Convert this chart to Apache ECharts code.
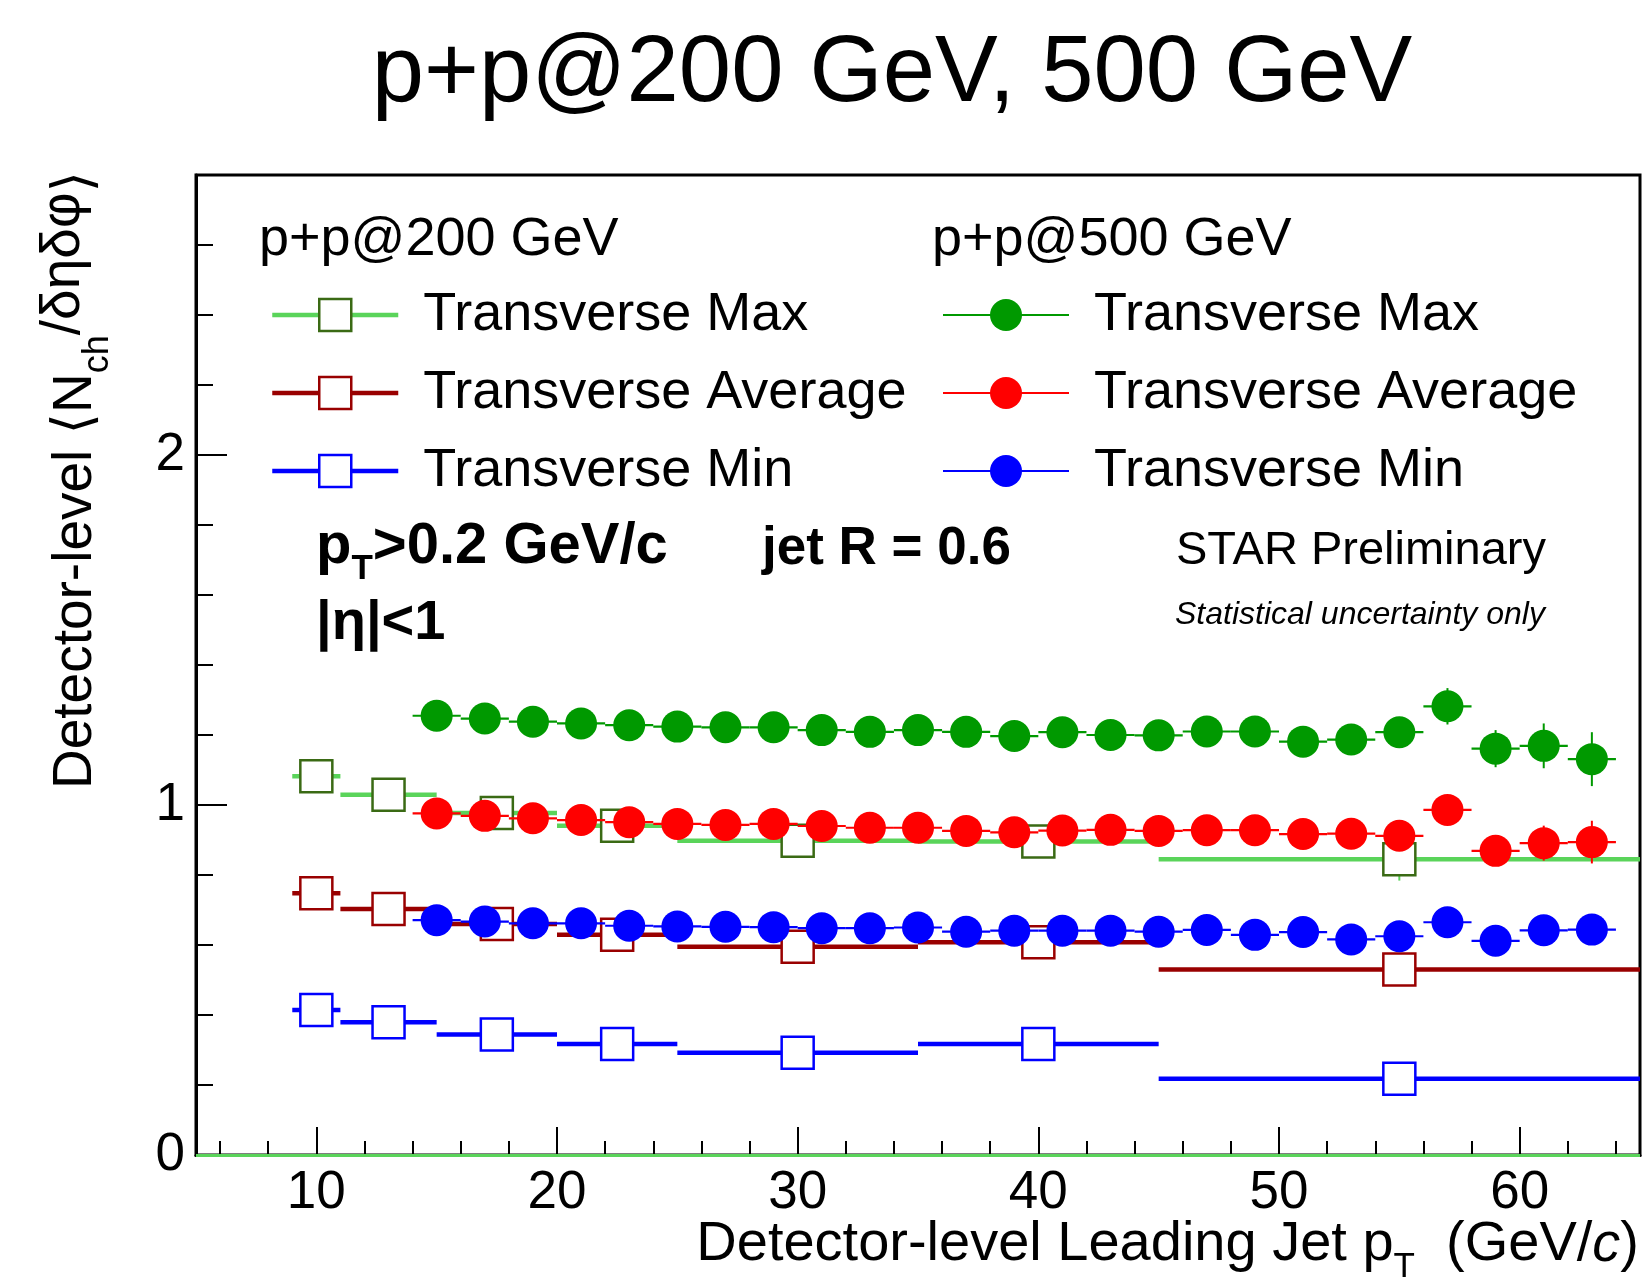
<!DOCTYPE html>
<html>
<head>
<meta charset="utf-8">
<title>p+p@200 GeV, 500 GeV</title>
<script src="https://cdn.jsdelivr.net/npm/echarts@6/dist/echarts.min.js"></script>
<style>
    html, body { margin: 0; padding: 0; background: #fff; }
    #container { width: 1642px; height: 1278px; }
</style>
</head>
<body>
<div id="container"></div>
<script type="text/javascript">
    // p+p@200 GeV : bin centres, bin edges, values, stat. errors
    var pt200  = [10, 13, 17.5, 22.5, 30, 40, 55];
    var lo200  = [9, 11, 15, 20, 25, 35, 45];
    var hi200  = [11, 15, 20, 25, 35, 45, 65];
    var max200 = [1.082, 1.029, 0.977, 0.941, 0.898, 0.896, 0.845];
    var avg200 = [0.748, 0.703, 0.660, 0.629, 0.595, 0.608, 0.530];
    var min200 = [0.414, 0.379, 0.344, 0.317, 0.292, 0.317, 0.218];
    var errMax200 = [0.004, 0.005, 0.006, 0.007, 0.008, 0.012, 0.061];
    var errAvg200 = [0.003, 0.004, 0.004, 0.005, 0.006, 0.009, 0.030];
    var errMin200 = [0.002, 0.003, 0.003, 0.004, 0.004, 0.006, 0.020];

    // p+p@500 GeV : bins of 2 GeV/c
    var pt500 = [15, 17, 19, 21, 23, 25, 27, 29, 31, 33, 35, 37, 39, 41, 43, 45, 47, 49, 51, 53, 55, 57, 59, 61, 63];
    var halfBin500 = 1;
    var max500 = [1.255, 1.247, 1.238, 1.233, 1.228, 1.224, 1.222, 1.222, 1.214, 1.209, 1.214, 1.209, 1.197,
                  1.208, 1.200, 1.199, 1.210, 1.210, 1.181, 1.187, 1.208, 1.282, 1.161, 1.169, 1.131];
    var avg500 = [0.976, 0.969, 0.962, 0.957, 0.951, 0.946, 0.943, 0.946, 0.940, 0.935, 0.935, 0.926, 0.922,
                  0.927, 0.929, 0.926, 0.928, 0.928, 0.917, 0.918, 0.912, 0.986, 0.869, 0.891, 0.894];
    var min500 = [0.671, 0.667, 0.662, 0.662, 0.655, 0.653, 0.652, 0.651, 0.648, 0.648, 0.650, 0.638, 0.641,
                  0.641, 0.641, 0.638, 0.643, 0.629, 0.637, 0.616, 0.625, 0.665, 0.612, 0.642, 0.644];
    var errMax500 = [0.006, 0.006, 0.007, 0.007, 0.008, 0.009, 0.010, 0.010, 0.011, 0.012, 0.013, 0.014, 0.015,
                     0.016, 0.017, 0.019, 0.021, 0.023, 0.025, 0.028, 0.031, 0.052, 0.053, 0.064, 0.077];
    var errAvg500 = [0.004, 0.004, 0.005, 0.005, 0.005, 0.006, 0.006, 0.007, 0.007, 0.008, 0.008, 0.009, 0.010,
                     0.011, 0.012, 0.013, 0.014, 0.015, 0.017, 0.019, 0.021, 0.034, 0.040, 0.050, 0.061];
    var errMin500 = [0.003, 0.003, 0.004, 0.004, 0.004, 0.005, 0.005, 0.005, 0.006, 0.006, 0.007, 0.007, 0.008,
                     0.008, 0.009, 0.010, 0.011, 0.012, 0.013, 0.014, 0.016, 0.025, 0.028, 0.032, 0.035];

    // axis ticks
    var xMajorTicks = [10, 20, 30, 40, 50, 60];
    var xMinorTicks = [6, 8, 12, 14, 16, 18, 22, 24, 26, 28, 32, 34, 36, 38, 42, 44, 46, 48, 52, 54, 56, 58, 62, 64];
    var yMajorTicks = [0, 1, 2];
    var yMinorTicks = [0.2, 0.4, 0.6, 0.8, 1.2, 1.4, 1.6, 1.8, 2.2, 2.4, 2.6];

    var FONT = "'Liberation Sans', Arial, Helvetica, 'DejaVu Sans', sans-serif";

    var C = {
        max200line: '#5ad45a', max200mark: '#3a6a14',
        avg200: '#990000', min200: '#0000ff',
        max500: '#009900', avg500: '#ff0000', min500: '#0000ff'
    };

    function errRows(pt, val, lo, hi, err) {
        return pt.map(function (x, i) { return [x, val[i], lo[i], hi[i], err[i]]; });
    }
    function rows500(val, err) {
        return pt500.map(function (x, i) { return [x, val[i], x - halfBin500, x + halfBin500, err[i]]; });
    }
    function points(pt, val) {
        return pt.map(function (x, i) { return [x, val[i]]; });
    }

    // error bars: horizontal = bin width, vertical = stat. error
    function errSeries(data, color, width, z) {
        return {
            type: 'custom', z: z, silent: true, animation: false,
            encode: { x: 0, y: 1 },
            data: data,
            renderItem: function (params, api) {
                var y = api.value(1), e = api.value(4);
                var l = api.coord([api.value(2), y]);
                var r = api.coord([api.value(3), y]);
                var t = api.coord([api.value(0), y + e]);
                var b = api.coord([api.value(0), y - e]);
                return {
                    type: 'group',
                    children: [
                        { type: 'line', shape: { x1: l[0], y1: l[1], x2: r[0], y2: r[1] }, style: { stroke: color, lineWidth: width } },
                        { type: 'line', shape: { x1: t[0], y1: t[1], x2: b[0], y2: b[1] }, style: { stroke: color, lineWidth: 2 } }
                    ]
                };
            }
        };
    }

    function markSeries(name, data, symbol, fill, border, lineColor, lineWidth, z) {
        return {
            name: name, type: 'line', z: z, silent: true, animation: false,
            data: data,
            symbol: symbol, symbolSize: 32, showSymbol: true, showAllSymbol: true,
            lineStyle: { color: lineColor, width: lineWidth, opacity: 0 },
            itemStyle: { color: fill, borderColor: border, borderWidth: border ? 2.5 : 0 },
            emphasis: { disabled: true }
        };
    }

    var myChart = echarts.init(document.getElementById('container'));

    var series = [
        errSeries(errRows(pt200, max200, lo200, hi200, errMax200), C.max200line, 4.5, 2),
        errSeries(errRows(pt200, avg200, lo200, hi200, errAvg200), C.avg200, 4.5, 2),
        errSeries(errRows(pt200, min200, lo200, hi200, errMin200), C.min200, 4.5, 2),
        markSeries('Transverse Max (200)', points(pt200, max200), 'rect', '#fff', C.max200mark, C.max200line, 4.5, 3),
        markSeries('Transverse Average (200)', points(pt200, avg200), 'rect', '#fff', C.avg200, C.avg200, 4.5, 3),
        markSeries('Transverse Min (200)', points(pt200, min200), 'rect', '#fff', C.min200, C.min200, 4.5, 3),
        errSeries(rows500(max500, errMax500), C.max500, 2.2, 4),
        errSeries(rows500(avg500, errAvg500), C.avg500, 2.2, 4),
        errSeries(rows500(min500, errMin500), C.min500, 2.2, 4),
        markSeries('Transverse Max (500)', points(pt500, max500), 'circle', C.max500, null, C.max500, 2, 5),
        markSeries('Transverse Average (500)', points(pt500, avg500), 'circle', C.avg500, null, C.avg500, 2, 5),
        markSeries('Transverse Min (500)', points(pt500, min500), 'circle', C.min500, null, C.min500, 2, 5)
    ];
    // green zero line along the bottom
    series[0].markLine = {
        silent: true, symbol: 'none', label: { show: false }, animation: false,
        lineStyle: { color: C.max200line, width: 3, type: 'solid' },
        data: [{ yAxis: 0 }]
    };

    function legendItem(name, color, lw, bw) {
        return { name: name, lineStyle: { color: color, width: lw, opacity: 1, type: 'solid' },
                 itemStyle: { borderWidth: bw } };
    }
    var legendText = {
        fontSize: 54, fontFamily: FONT, color: '#000', lineHeight: 40, padding: [0, 0, 0, 20]
    };
    function stripSuffix(n) { return n.replace(/ \(\d+\)$/, ''); }

    var option = {
        backgroundColor: '#fff',
        animation: false,
        title: [
            { text: 'p+p@200 GeV, 500 GeV', left: 892, top: 23, textAlign: 'center', padding: 0,
              textStyle: { fontSize: 94, fontWeight: 'normal', fontFamily: FONT, color: '#000', lineHeight: 104 } },
            { text: 'p+p@200 GeV', left: 259, top: 210, padding: 0,
              textStyle: { fontSize: 54, fontWeight: 'normal', fontFamily: FONT, color: '#000', lineHeight: 60 } },
            { text: 'p+p@500 GeV', left: 932, top: 210, padding: 0,
              textStyle: { fontSize: 54, fontWeight: 'normal', fontFamily: FONT, color: '#000', lineHeight: 60 } },
            { text: '{a|p}{s|T}{a|>0.2 GeV/c}', left: 316, top: 507, padding: 0,
              textStyle: { rich: {
                  a: { fontSize: 58, fontWeight: 'bold', fontFamily: FONT, color: '#000', lineHeight: 80 },
                  s: { fontSize: 35, fontWeight: 'bold', fontFamily: FONT, color: '#000', lineHeight: 60, verticalAlign: 'bottom' }
              } } },
            { text: 'jet R = 0.6', left: 762, top: 519, padding: 0,
              textStyle: { fontSize: 53, fontWeight: 'bold', fontFamily: FONT, color: '#000', lineHeight: 60 } },
            { text: '|η|<1', left: 316, top: 594, padding: 0,
              textStyle: { fontSize: 56, fontWeight: 'bold', fontFamily: FONT, color: '#000', lineHeight: 60 } },
            { text: 'STAR Preliminary', left: 1176, top: 525, padding: 0,
              textStyle: { fontSize: 47, fontWeight: 'normal', fontFamily: FONT, color: '#000', lineHeight: 52 } },
            { text: 'Statistical uncertainty only', left: 1175, top: 597, padding: 0,
              textStyle: { fontSize: 32, fontStyle: 'italic', fontWeight: 'normal', fontFamily: FONT, color: '#000', lineHeight: 36 } }
        ],
        legend: [
            { orient: 'vertical', left: 270, top: 288, padding: 0, itemWidth: 126, itemHeight: 40, itemGap: 24,
              selectedMode: false, textStyle: legendText, formatter: stripSuffix,
              data: [legendItem('Transverse Max (200)', C.max200line, 4.5, 2.5),
                     legendItem('Transverse Average (200)', C.avg200, 4.5, 2.5),
                     legendItem('Transverse Min (200)', C.min200, 4.5, 2.5)] },
            { orient: 'vertical', left: 942, top: 288, padding: 0, itemWidth: 126, itemHeight: 40, itemGap: 24,
              selectedMode: false, textStyle: legendText, formatter: stripSuffix,
              data: [legendItem('Transverse Max (500)', C.max500, 2, 0),
                     legendItem('Transverse Average (500)', C.avg500, 2, 0),
                     legendItem('Transverse Min (500)', C.min500, 2, 0)] }
        ],
        grid: { left: 196, right: 2, top: 175, bottom: 123, show: true, borderColor: '#000', borderWidth: 3 },
        xAxis: [
            { type: 'value', min: 5, max: 65, position: 'bottom',
              axisLine: { show: true, lineStyle: { color: '#000', width: 3 } },
              axisTick: { show: true, inside: true, length: 28, customValues: xMajorTicks, lineStyle: { color: '#000', width: 2 } },
              axisLabel: { show: true, customValues: xMajorTicks, margin: 12, fontSize: 53, fontFamily: FONT, color: '#000' },
              splitLine: { show: false } },
            { type: 'value', min: 5, max: 65, position: 'bottom',
              axisLine: { show: false },
              axisTick: { show: true, inside: true, length: 14, customValues: xMinorTicks, lineStyle: { color: '#000', width: 2 } },
              axisLabel: { show: false }, splitLine: { show: false } }
        ],
        yAxis: [
            { type: 'value', min: 0, max: 2.8, position: 'left',
              axisLine: { show: true, lineStyle: { color: '#000', width: 3 } },
              axisTick: { show: true, inside: true, length: 31, customValues: yMajorTicks, lineStyle: { color: '#000', width: 2 } },
              axisLabel: { show: true, customValues: yMajorTicks, margin: 11, fontSize: 53, fontFamily: FONT, color: '#000' },
              splitLine: { show: false } },
            { type: 'value', min: 0, max: 2.8, position: 'left',
              axisLine: { show: false },
              axisTick: { show: true, inside: true, length: 17, customValues: yMinorTicks, lineStyle: { color: '#000', width: 2 } },
              axisLabel: { show: false }, splitLine: { show: false } }
        ],
        graphic: [
            { type: 'text', x: 76, y: 171, rotation: Math.PI / 2, silent: true,
              style: { text: '{a|Detector-level ⟨N}{s|ch}{r|/δηδφ}{a|⟩}', align: 'right', verticalAlign: 'middle', fill: '#000',
                       rich: {
                           a: { fontSize: 55, fontFamily: FONT, lineHeight: 80 },
                           s: { fontSize: 36, fontFamily: FONT, lineHeight: 40, verticalAlign: 'bottom' },
                           r: { fontSize: 55, fontFamily: FONT, lineHeight: 56, verticalAlign: 'top' }
                       } } },
            { type: 'text', x: 1639, y: 1245, silent: true,
              style: { text: '{a|Detector-level Leading Jet p}{s|T}{a|  (GeV/}{i|c}{a|)}', align: 'right', verticalAlign: 'middle', fill: '#000',
                       rich: {
                           a: { fontSize: 56, fontFamily: FONT, lineHeight: 80 },
                           s: { fontSize: 35, fontFamily: FONT, lineHeight: 44, verticalAlign: 'bottom' },
                           i: { fontSize: 56, fontFamily: FONT, fontStyle: 'italic', lineHeight: 80 }
                       } } }
        ],
        series: series
    };

    myChart.setOption(option);
</script>
</body>
</html>
